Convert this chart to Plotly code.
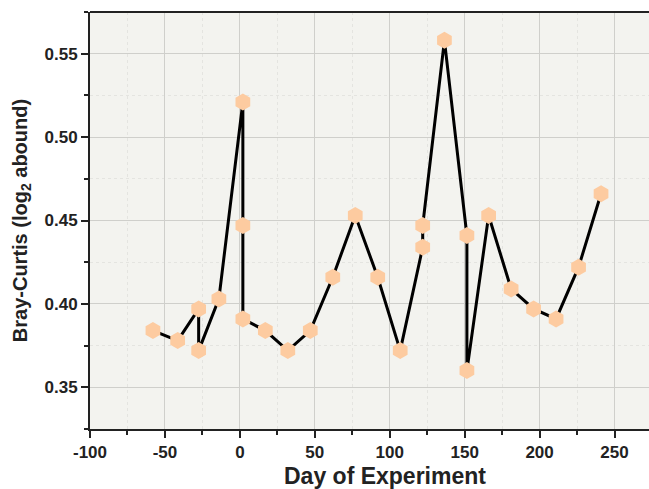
import plotly.graph_objects as go

days = [-58, -41.5, -27.5, -27.5, -14, 2, 2, 2, 17, 32, 47, 62, 77, 92, 107,
        122, 122, 136.5, 151.5, 151.5, 166, 181, 196, 211, 226, 241]
bray_curtis = [0.384, 0.378, 0.397, 0.372, 0.403, 0.521, 0.447, 0.391, 0.384,
               0.372, 0.384, 0.416, 0.453, 0.416, 0.372, 0.434, 0.447, 0.558,
               0.441, 0.360, 0.453, 0.409, 0.397, 0.391, 0.422, 0.466]

x_ticks = [-100, -50, 0, 50, 100, 150, 200, 250]
y_ticks = [0.35, 0.40, 0.45, 0.50, 0.55]

fig = go.Figure()
fig.add_trace(go.Scatter(
    x=days, y=bray_curtis, mode="lines+markers",
    line=dict(color="black", width=3),
    marker=dict(symbol="hexagon", size=17, color="#FDCBA0",
                line=dict(width=0)),
    showlegend=False,
))

font_family = "Liberation Sans, Arial, sans-serif"
fig.update_layout(
    width=649, height=489,
    margin=dict(l=90, r=0, t=12, b=60),
    paper_bgcolor="white",
    plot_bgcolor="#F3F3EF",
    font=dict(family=font_family, color="#222222"),
    xaxis=dict(
        range=[-100, 273],
        tickvals=x_ticks, ticktext=["<b>%d</b>" % v for v in x_ticks],
        tickfont=dict(size=17, family=font_family),
        ticks="outside", ticklen=7, tickwidth=2, tickcolor="#222",
        showline=True, linecolor="#222", linewidth=2, mirror=False,
        showgrid=True, gridcolor="#CFCFCB", gridwidth=1,
        zeroline=False,
        minor=dict(dtick=25, tick0=-75, ticks="outside", ticklen=4,
                   tickwidth=2, tickcolor="#222", showgrid=True,
                   gridcolor="#E4E4E0", griddash="dot", gridwidth=1),
    ),
    yaxis=dict(
        range=[0.325, 0.575],
        tickvals=y_ticks, ticktext=["<b>%.2f</b>" % v for v in y_ticks],
        tickfont=dict(size=17, family=font_family),
        ticks="outside", ticklen=7, tickwidth=2, tickcolor="#222",
        showline=True, linecolor="#222", linewidth=2,
        showgrid=True, gridcolor="#CFCFCB", gridwidth=1,
        zeroline=False,
        minor=dict(dtick=0.025, tick0=0.325, ticks="outside", ticklen=4,
                   tickwidth=2, tickcolor="#222", showgrid=True,
                   gridcolor="#E4E4E0", griddash="dot", gridwidth=1),
        title=dict(text="<b>Bray-Curtis (log<sub>2</sub> abound)</b>",
                   font=dict(size=20), standoff=12),
    ),
)
fig.add_annotation(text="<b>Day of Experiment</b>", xref="paper", yref="paper",
                   x=0.528, y=-0.113, xanchor="center", yanchor="middle",
                   showarrow=False, font=dict(size=23, color="#222222"))
# top border line
fig.add_shape(type="line", xref="paper", yref="paper", x0=0, x1=1, y0=1, y1=1,
              line=dict(color="#222", width=2))

fig.write_html("out.html")
